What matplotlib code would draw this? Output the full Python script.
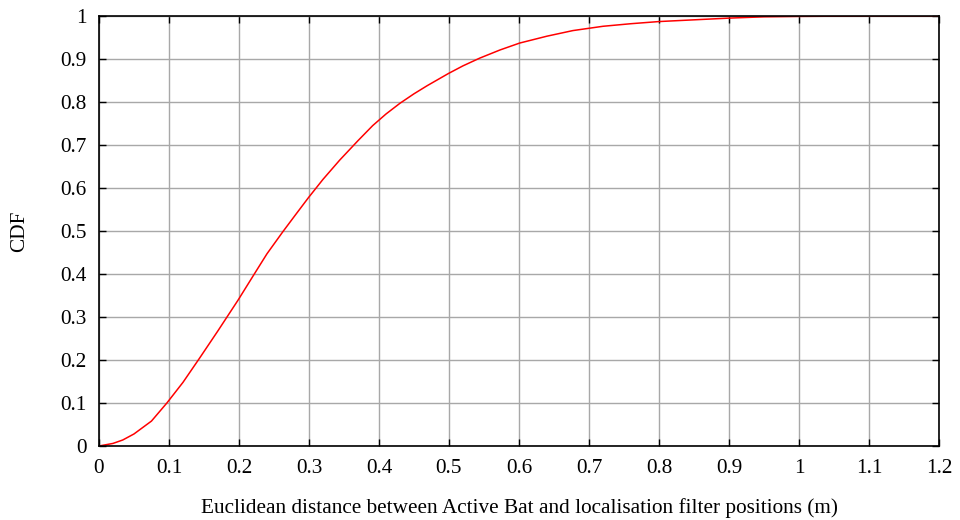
import matplotlib
matplotlib.use("Agg")
import matplotlib.pyplot as plt
from matplotlib.ticker import FuncFormatter, MultipleLocator

# Empirical CDF of the localisation error (metres)
distance = [0.0, 0.02, 0.034, 0.05, 0.075, 0.097, 0.12, 0.144, 0.17, 0.199,
            0.22, 0.24, 0.263, 0.28, 0.299, 0.32, 0.344, 0.37, 0.391, 0.41,
            0.43, 0.45, 0.469, 0.499, 0.52, 0.544, 0.573, 0.601, 0.64, 0.677,
            0.72, 0.76, 0.8, 0.85, 0.9, 0.95, 1.0, 1.1, 1.2]
cdf = [0.0, 0.006, 0.014, 0.028, 0.058, 0.100, 0.148, 0.205, 0.268, 0.340,
       0.395, 0.447, 0.499, 0.536, 0.577, 0.620, 0.665, 0.710, 0.745, 0.772,
       0.797, 0.819, 0.838, 0.866, 0.884, 0.902, 0.921, 0.937, 0.953, 0.966,
       0.976, 0.982, 0.987, 0.991, 0.995, 0.998, 0.999, 1.0, 1.0]

plt.rcParams['font.family'] = ['Liberation Serif', 'DejaVu Serif']
plt.rcParams['font.size'] = 15.3

fig = plt.figure(figsize=(9.6, 5.2), dpi=100)
ax = fig.add_axes([0.1031, 0.1423, 0.875, 0.827])

ax.plot(distance, cdf, color='#ff0000', linewidth=1.1)

ax.set_xlim(0, 1.2)
ax.set_ylim(0, 1)
ax.xaxis.set_major_locator(MultipleLocator(0.1))
ax.yaxis.set_major_locator(MultipleLocator(0.1))
fmt = FuncFormatter(lambda v, p: f"{round(v, 2):g}")
ax.xaxis.set_major_formatter(fmt)
ax.yaxis.set_major_formatter(fmt)

ax.grid(True, color='#a8a8a8', linewidth=1.0)
ax.set_axisbelow(True)
ax.tick_params(direction='in', length=5, width=1, top=True, right=True,
               labelsize=15.3, pad=9, color='black')
for s in ax.spines.values():
    s.set_linewidth(1.2)
    s.set_color('black')

ax.set_xlabel('Euclidean distance between Active Bat and localisation filter positions (m)',
              labelpad=15)
ax.set_ylabel('CDF', labelpad=22)

fig.savefig('out.png', dpi=100)
